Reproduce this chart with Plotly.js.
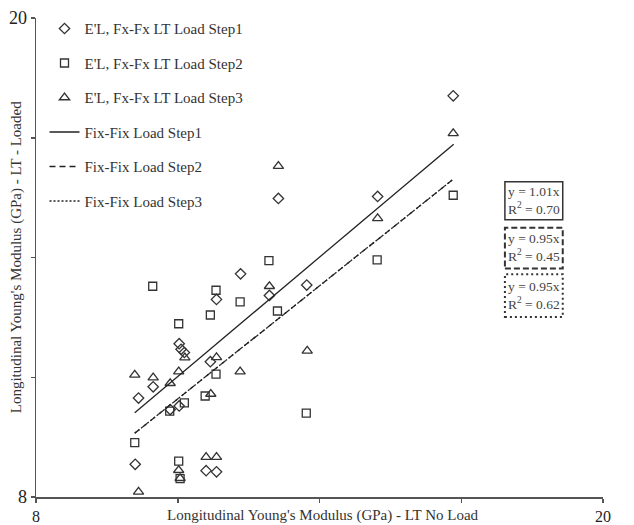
<!DOCTYPE html>
<html>
<head>
<meta charset="utf-8">
<script src="https://cdn.plot.ly/plotly-3.0.1.min.js"></script>
<style>html,body{margin:0;padding:0;background:#fff;}</style>
</head>
<body>
<div id="chart" style="width:634px;height:525px;"></div>
<script>
// Load step 1 (diamonds)
var step1X = [16.83, 15.23, 13.13, 12.33, 11.82, 12.94, 13.73, 11.03, 11.07, 11.14, 11.69, 10.48, 10.17, 11.03, 10.84, 10.10, 11.60, 11.82];
var step1Y = [18.05, 15.53, 15.48, 13.59, 12.95, 13.05, 13.31, 11.84, 11.70, 11.62, 11.39, 10.76, 10.48, 10.28, 10.19, 8.82, 8.66, 8.63];
// Load step 2 (squares)
var step2X = [16.83, 15.22, 12.93, 10.47, 11.81, 12.32, 11.69, 11.02, 13.11, 11.81, 11.58, 11.14, 10.83, 10.09, 11.02, 11.05, 13.72];
var step2Y = [15.56, 13.94, 13.92, 13.28, 13.18, 12.89, 12.56, 12.34, 12.66, 11.08, 10.53, 10.36, 10.15, 9.36, 8.90, 8.46, 10.10];
// Load step 3 (triangles)
var step3X = [16.83, 15.23, 13.13, 12.94, 10.09, 10.48, 11.02, 11.15, 11.82, 10.84, 11.70, 12.32, 13.74, 11.60, 11.82, 11.02, 11.05, 10.17];
var step3Y = [17.11, 14.98, 16.29, 13.28, 11.06, 10.99, 11.14, 11.49, 11.50, 10.85, 10.58, 11.14, 11.66, 9.00, 9.00, 8.67, 8.47, 8.13];
// Fitted lines
var fitX = [10.09, 16.84];
var fit1Y = [10.11, 16.84];
var fit2Y = [9.60, 15.97];
var fit3Y = [9.60, 15.97];
// Labels
var seriesNames = ["E'L, Fx-Fx LT Load Step1", "E'L, Fx-Fx LT Load Step2", "E'L, Fx-Fx LT Load Step3"];
var lineNames = ["Fix-Fix Load Step1", "Fix-Fix Load Step2", "Fix-Fix Load Step3"];
var eqTexts = ["y = 1.01x<br>R<sup>2</sup> = 0.70", "y = 0.95x<br>R<sup>2</sup> = 0.45", "y = 0.95x<br>R<sup>2</sup> = 0.62"];
var tickVals = [8, 11, 14, 17, 20];
var tickText = ["8", "", "", "", "20"];
var xTitle = "Longitudinal Young's Modulus (GPa) - LT No Load";
var yTitle = "Longitudinal Young's Modulus (GPa) - LT - Loaded";

var FONT = "Liberation Serif, Times New Roman, serif";
var MK = "#333";

function markerTrace(x, y, name, symbol, size, grp) {
  return {x: x, y: y, name: name, type: 'scatter', mode: 'markers', legendgroup: grp,
    marker: {symbol: symbol, size: size, color: MK, line: {color: MK, width: 1.3}},
    cliponaxis: false};
}
function lineTrace(x, y, name, dash, grp) {
  return {x: x, y: y, name: name, type: 'scatter', mode: 'lines', legendgroup: grp,
    line: {color: '#222', width: 1.3, dash: dash}};
}

var data = [
  markerTrace(step1X, step1Y, seriesNames[0], 'diamond-open', 8, 'a'),
  markerTrace(step2X, step2Y, seriesNames[1], 'square-open', 8, 'b'),
  markerTrace(step3X, step3Y, seriesNames[2], 'triangle-up-open', 9, 'c'),
  lineTrace(fitX, fit1Y, lineNames[0], 'solid', 'd'),
  lineTrace(fitX, fit2Y, lineNames[1], '6px,4px', 'e'),
  lineTrace(fitX, fit3Y, lineNames[2], '2px,2px', 'f')
];

function makeAxis(fontSize) {
  return {
    range: [8, 20], tickmode: 'array', tickvals: tickVals, ticktext: tickText,
    ticks: 'outside', ticklen: 4, tickwidth: 1.5, tickcolor: '#555',
    showline: true, linecolor: '#555', linewidth: 1.5,
    showgrid: false, zeroline: false,
    tickfont: {family: FONT, size: fontSize, color: '#222'}
  };
}

var boxes = [
  {y0: 0.579, y1: 0.658, dash: 'solid', width: 1.5},
  {y0: 0.477, y1: 0.562, dash: '6px,3px', width: 2},
  {y0: 0.376, y1: 0.465, dash: '2px,3px', width: 2}
];
var eqY = [0.618, 0.520, 0.421];

var shapes = boxes.map(function(b) {
  return {type: 'rect', xref: 'paper', yref: 'paper', x0: 0.827, x1: 0.929, y0: b.y0, y1: b.y1,
    line: {color: '#333', width: b.width, dash: b.dash}};
});

var annotations = eqTexts.map(function(t, i) {
  return {text: t, xref: 'paper', yref: 'paper', x: 0.829, y: eqY[i], xanchor: 'left', yanchor: 'middle',
    align: 'left', showarrow: false, font: {family: FONT, size: 13.5, color: '#444'}};
});
annotations.push({text: xTitle, xref: 'paper', yref: 'paper', x: 0.507, y: -0.039, xanchor: 'center', yanchor: 'middle',
  showarrow: false, font: {family: FONT, size: 15, color: '#333'}});
annotations.push({text: yTitle, xref: 'paper', yref: 'paper', x: -0.034, y: 0.5, xanchor: 'center', yanchor: 'middle',
  textangle: -90, showarrow: false, font: {family: FONT, size: 15, color: '#333'}});

var layout = {
  width: 634, height: 525,
  margin: {l: 36, r: 31, t: 15, b: 28},
  paper_bgcolor: '#fff', plot_bgcolor: '#fff',
  font: {family: FONT, color: '#333'},
  showlegend: true,
  legend: {x: 0.015, y: 1.012, xanchor: 'left', yanchor: 'top', bgcolor: 'rgba(0,0,0,0)',
    font: {family: FONT, size: 15, color: '#333'}, tracegroupgap: 12, traceorder: 'grouped'},
  xaxis: makeAxis(16),
  yaxis: makeAxis(18),
  shapes: shapes,
  annotations: annotations
};

Plotly.newPlot('chart', data, layout, {displayModeBar: false, staticPlot: true});
</script>
</body>
</html>
